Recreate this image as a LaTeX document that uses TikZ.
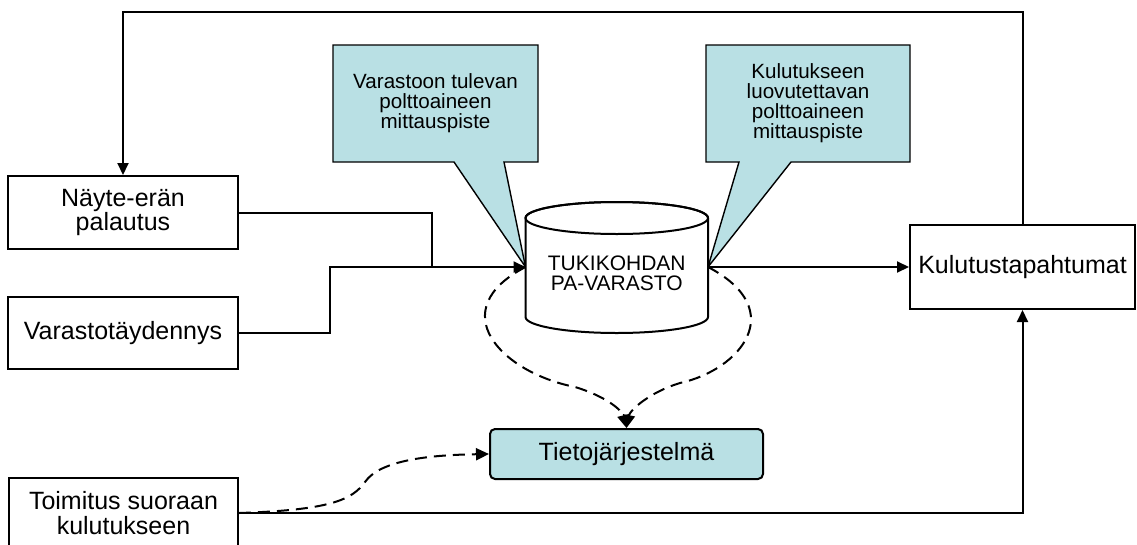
\documentclass[tikz,border=0pt]{standalone}
\usepackage{fontspec}
\setmainfont{Liberation Sans}
\usetikzlibrary{arrows.meta}
\definecolor{callblue}{RGB}{185,224,228}
\begin{document}
\begin{tikzpicture}[x=1pt,y=-1pt,
  box/.style={draw, line width=2pt, fill=white, align=center, inner sep=0pt,
    font=\fontsize{25}{24.5}\selectfont},
  arr/.style={line width=2pt, -{Triangle[length=12pt,width=11pt]}},
  conn/.style={line width=2pt},
  darr/.style={line width=2pt, dash pattern=on 12pt off 7pt, -{Triangle[length=13pt,width=12pt]}},
  callshape/.style={draw, line width=1.4pt, fill=callblue, line join=miter},
  calltext/.style={align=center, inner sep=0pt, font=\fontsize{20.6}{20}\selectfont},
  cyltext/.style={align=center, inner sep=0pt, font=\fontsize{21}{20}\selectfont}]
\useasboundingbox (0,0) rectangle (1137,544);

% coordinates
\coordinate (cylW) at (525.5,267);
\coordinate (cylE) at (708,267);
\coordinate (top) at (0,12);
\coordinate (j1) at (432,267);

% callouts
\draw[callshape] (333,45) -- (538,45) -- (538,162) -- (504,162) -- (cylW) -- (454,162) -- (333,162) -- cycle;
\node[calltext] (c1) at (435.5,103) {Varastoon tulevan\\polttoaineen\\mittauspiste};
\draw[callshape] (706,45) -- (910,45) -- (910,162) -- (791,162) -- (cylE) -- (739,162) -- (706,162) -- cycle;
\node[calltext] (c2) at (808,103) {Kulutukseen\\luovutettavan\\polttoaineen\\mittauspiste};

% cylinder
\draw[line width=2pt, fill=white] (525.5,218) -- (525.5,317)
  arc[start angle=180, end angle=0, x radius=91.25, y radius=16] -- (708,218)
  arc[start angle=0, end angle=-180, x radius=91.25, y radius=16] -- cycle;
\draw[line width=2pt] (616.75,218) ellipse [x radius=91.25, y radius=16];
\node[cyltext] (cyl) at (616.75,273) {TUKIKOHDAN\\PA-VARASTO};

% boxes
\node[box, minimum width=230, minimum height=73] (nay) at (123,212.5) {N\"ayte-er\"an\\palautus};
\node[box, minimum width=230, minimum height=72] (var) at (123,333) {Varastot\"aydennys};
\node[box, minimum width=229, minimum height=70] (toi) at (123.5,513) {Toimitus suoraan\\kulutukseen};
\node[box, minimum width=225, minimum height=84] (kul) at (1022.5,267) {Kulutustapahtumat};
\node[box, fill=callblue, rounded corners=5pt, minimum width=273, minimum height=50] (tieto) at (626.5,454) {Tietoj\"arjestelm\"a};

% solid connectors
\draw[arr] (kul.north) -- (kul.north |- top) -| (nay.north);
\draw[conn] (nay.east) -| (j1);
\draw[arr] (var.east) -- ++(91,0) |- (cylW);
\draw[arr] (cylE) -- (kul.west);
\draw[arr] (toi.east) -| (kul.south);

% dashed connectors
\draw[darr] (cylW) .. controls (443,310) and (500,372) .. (575,387)
  .. controls (605,396) and (622,410) .. (tieto.north);
\draw[darr] (cylE) .. controls (790,310) and (740,370) .. (680,383)
  .. controls (650,392) and (630,410) .. (tieto.north);
\draw[darr] (toi.east) .. controls (330,510) and (352,500) .. (365,482)
  .. controls (380,460) and (430,455) .. (tieto.west);
\end{tikzpicture}
\end{document}
